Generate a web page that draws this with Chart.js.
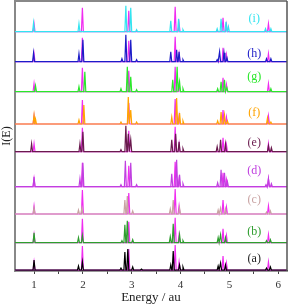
<!DOCTYPE html>
<html><head><meta charset="utf-8">
<script src="https://cdn.jsdelivr.net/npm/chart.js@4/dist/chart.umd.min.js"></script>
<style>html,body{margin:0;padding:0;background:#fff;}#wrap{width:289px;height:305px;}</style>
</head><body><div id="wrap"><canvas id="c" width="289" height="305"></canvas></div>
<script>
// Energy range and ticks
const energyMin = 0.61, energyMax = 6.18;
const tickValues = [1,1.5,2,2.5,3,3.5,4,4.5,5,5.5,6];
// spectrum labels, bottom to top
const labels = ['(a)','(b)','(c)','(d)','(e)','(f)','(g)','(h)','(i)'];
const colors = ['#000000','#2e9e2e','#c9a3a3','#c040e0','#6a1a4e','#ffa400','#2ae82a','#1c1cc8','#33e4f0'];
// vertical offset of each spectrum baseline (intensity units)
const offsets = [0, 27.3, 56, 83.3, 118.3, 146, 178.3, 208.3, 238.3];
// peaks [energy, intensity]
const peaksA = [[1.0,10],[1.91,4],[1.99,8],[2.78,2],[2.86,18],[2.92,21],[3.02,3],[3.2,1],[3.80,5],[3.85,19],[3.98,5],[4.05,3],[4.77,4],[4.82,7],[4.92,5],[5.76,2],[5.84,3]];
const peaksB = [[1.0,10],[1.91,5],[1.99,7],[2.80,2],[2.86,18],[2.91,22],[3.02,3],[3.79,6],[3.85,19],[3.98,8],[4.05,2],[4.77,5],[4.82,8],[4.92,5],[5.76,2],[5.84,3]];
const peaksC = [[1.0,6],[1.91,4],[1.98,6],[2.86,14],[2.91,18],[3.02,3],[3.79,5],[3.85,14],[3.98,6],[4.77,4],[4.82,6],[4.92,5],[5.76,2],[5.84,3]];
const peaksD = [[1.0,10],[1.94,8],[2.0,24],[2.78,2],[2.87,26],[2.98,24],[3.1,2],[3.82,13],[3.92,27],[3.98,12],[4.05,3],[4.76,4],[4.83,17],[4.9,14],[4.96,5],[5.75,2],[5.8,8],[5.86,3]];
const peaksE = [[0.95,8],[1.94,8],[2.0,20],[2.78,2],[2.88,26],[2.93,18],[2.98,12],[3.82,12],[3.9,18],[3.97,10],[4.05,3],[4.75,5],[4.82,12],[4.92,8],[5.8,6],[5.86,4]];
const peaksF = [[1.0,9],[1.03,5],[1.92,4],[2.02,19],[2.78,2],[2.93,27],[2.98,14],[3.1,2],[3.82,7],[3.92,26],[3.98,11],[4.05,3],[4.76,3],[4.83,12],[4.9,9],[4.96,3],[5.78,6],[5.85,2]];
const peaksG = [[1.03,6],[1.92,5],[2.04,20],[2.78,3],[2.91,25],[2.98,15],[3.1,2],[3.84,12],[3.93,25],[3.98,10],[4.05,3],[4.76,3],[4.83,10],[4.9,12],[4.95,4],[5.85,3]];
const peaksH = [[0.99,9],[1.92,8],[2.0,22],[2.8,3],[2.88,27],[2.98,22],[3.1,2],[3.8,10],[3.92,12],[3.97,10],[4.05,2],[4.75,2],[4.8,10],[4.89,9],[4.95,4],[5.76,3],[5.85,3]];
const peaksI = [[0.99,9],[1.92,8],[2.88,26],[2.98,24],[3.1,2],[3.8,11],[3.96,13],[4.05,2],[4.75,3],[4.83,13],[4.93,10],[4.98,5],[5.74,3],[5.85,3]];
const magentaPeaks = [[1.0,8],[1.99,24],[2.94,21],[3.89,25],[3.97,8],[4.87,14],[4.94,7],[5.8,8]];
const magentaColor = '#f02cf0';

const allPeaks = [peaksA,peaksB,peaksC,peaksD,peaksE,peaksF,peaksG,peaksH,peaksI];
const halfW = 0.02;
function buildLine(peaks, off){
  const pts = [{x:energyMin,y:off}];
  peaks.slice().sort((a,b)=>a[0]-b[0]).forEach(([e,h])=>{
    pts.push({x:e-halfW,y:off},{x:e,y:off+h},{x:e+halfW,y:off});
  });
  pts.push({x:energyMax,y:off});
  return pts;
}
const datasets = [];
allPeaks.forEach((p,i)=>{
  datasets.push({data:buildLine(magentaPeaks,offsets[i]),borderColor:magentaColor,borderWidth:1.2,pointRadius:0,showLine:true,order:1});
  datasets.push({data:buildLine(p,offsets[i]),borderColor:colors[i],borderWidth:1.2,pointRadius:0,showLine:true,order:0});
});

const labelOffsets = [11,11,14,16,9,11,15,8,13];
const deco = {
  id:'deco',
  afterDraw(chart){
    const ctx = chart.ctx, a = chart.chartArea, xs = chart.scales.x, ys = chart.scales.y;
    ctx.save();
    ctx.strokeStyle = '#888'; ctx.lineWidth = 2;
    ctx.beginPath(); ctx.moveTo(a.left, a.top); ctx.lineTo(a.right, a.top); ctx.stroke();
    ctx.strokeStyle = '#555'; ctx.lineWidth = 1.5;
    ctx.beginPath(); ctx.moveTo(a.right, a.top); ctx.lineTo(a.right, a.bottom); ctx.stroke();
    ctx.font = '12px "Liberation Serif", serif';
    ctx.textAlign = 'center'; ctx.textBaseline = 'middle';
    labels.forEach((t,i)=>{
      ctx.fillStyle = i===0 ? '#222' : colors[i];
      ctx.fillText(t, xs.getPixelForValue(5.51), ys.getPixelForValue(offsets[i]+labelOffsets[i]));
    });
    ctx.restore();
  }
};

new Chart(document.getElementById('c'), {
  type:'scatter',
  data:{datasets},
  options:{
    responsive:false, animation:false, devicePixelRatio:1,
    layout:{padding:{top:1,right:2,left:0,bottom:0}},
    plugins:{legend:{display:false},tooltip:{enabled:false}},
    scales:{
      x:{type:'linear',min:energyMin,max:energyMax,
        afterBuildTicks(s){ s.ticks = tickValues.map(v=>({value:v})); },
        afterFit(s){ s.height = 34; },
        ticks:{autoSkip:false,maxRotation:0,padding:5,color:'#333',font:{family:'"Liberation Serif", serif',size:11},
          callback:(v)=>Number.isInteger(v)?String(v):''},
        grid:{drawOnChartArea:false,tickLength:3,color:'#444',lineWidth:1},
        border:{display:true,color:'#333',width:1.5},
        title:{display:true,text:'Energy / au',color:'#222',font:{family:'"Liberation Serif", serif',size:13},padding:{top:0,bottom:0}}
      },
      y:{type:'linear',min:-1,max:269,
        afterFit(s){ s.width = 15; },
        ticks:{display:false},
        grid:{display:false,drawTicks:false},
        border:{display:true,color:'#888',width:2},
        title:{display:true,text:'I(E)',color:'#222',font:{family:'"Liberation Serif", serif',size:12},padding:{top:0,bottom:0}}
      }
    }
  },
  plugins:[deco]
});
</script>
</body></html>
